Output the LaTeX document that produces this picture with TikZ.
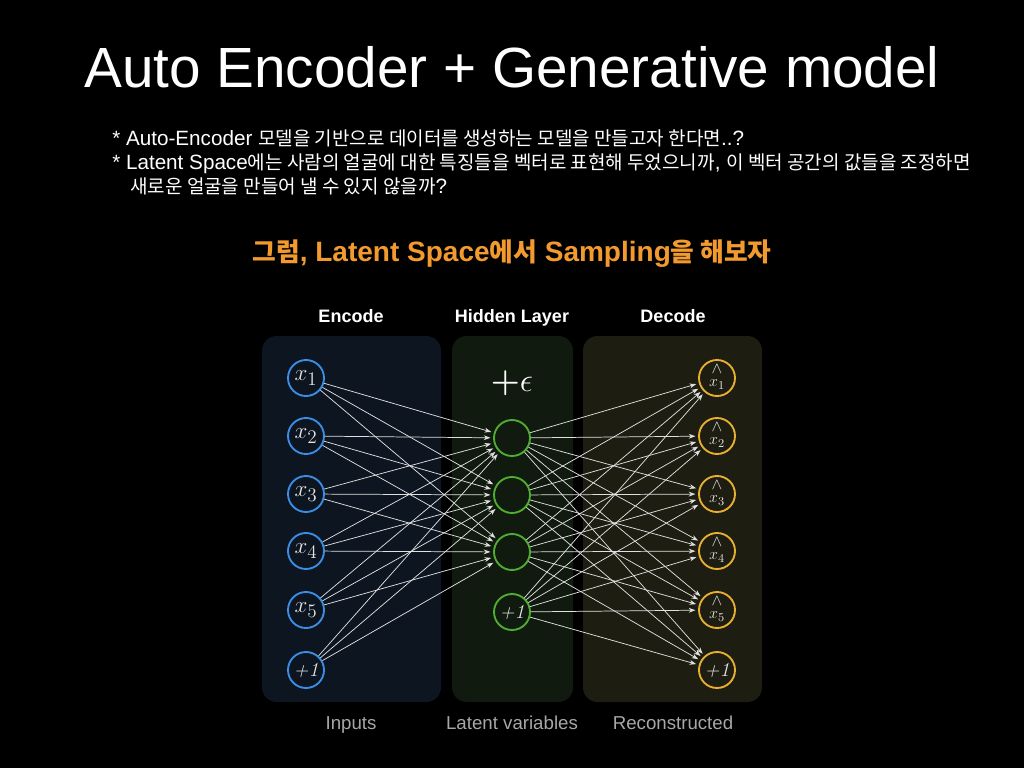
\documentclass[tikz,border=0pt]{standalone}
\usepackage{amsmath}
\usepackage{fontspec}
\setmainfont{Liberation Sans}
\newfontfamily\kr{Noto Sans CJK KR}[Scale=0.92]
\newfontfamily\lmrm{Latin Modern Roman}
\usetikzlibrary{arrows.meta}

\definecolor{encbg}{HTML}{0C1520}
\definecolor{hidbg}{HTML}{111A0F}
\definecolor{decbg}{HTML}{1E1D11}
\definecolor{inblue}{HTML}{3A8EE6}
\definecolor{hidgreen}{HTML}{4FAE2F}
\definecolor{outgold}{HTML}{E8B030}
\definecolor{accent}{HTML}{F29A2E}
\definecolor{wire}{HTML}{E0E0E0}
\definecolor{caption}{HTML}{A8A8A8}
\definecolor{nodetext}{HTML}{E6E6E6}

% bias unit label, set in an italic serif
\newcommand{\biaslabel}{{\fontsize{15pt}{15pt}\selectfont\lmrm\itshape +1}}
% reconstructed unit label: a caret over x_k, kept inside the circle
\newcommand{\recon}[1]{\smash{\raisebox{-2pt}{\fontsize{13pt}{13pt}\selectfont
  \begin{tabular}{@{}c@{}}$\wedge$\\[-3pt]$x_{#1}$\end{tabular}}}}

\begin{document}
\begin{tikzpicture}[x=0.75pt,y=-0.75pt,
  panel/.style={rounded corners=11pt},
  unit/.style={circle,minimum size=27pt,inner sep=0pt,line width=1.4pt,
    text=nodetext,font=\fontsize{19pt}{22pt}\selectfont},
  inunit/.style={unit,draw=inblue},
  hidunit/.style={unit,draw=hidgreen},
  outunit/.style={unit,draw=outgold},
  edge/.style={draw=wire,line width=0.55pt,-{Stealth[length=5pt,width=3.6pt]},shorten >=2pt},
  heading/.style={text=white,anchor=base,font=\fontsize{13.5pt}{16pt}\selectfont\bfseries},
  foot/.style={text=caption,anchor=base,font=\fontsize{14pt}{17pt}\selectfont},
  body/.style={text=white,anchor=base west,inner sep=0pt,font=\fontsize{15.5pt}{18pt}\selectfont}]

% background and page size
\fill[black] (0,0) rectangle (1024,768);
\useasboundingbox (0,0) rectangle (1024,768);

% title and notes
\node[text=white,font=\fontsize{42.5pt}{50pt}\selectfont] (title) at (512,67) {Auto Encoder + Generative model};
\node[body] (l1) at (112,145) {* Auto-Encoder {\kr 모델을 기반으로 데이터를 생성하는 모델을 만들고자 한다면}..?};
\node[body] (l2) at (112,169) {* Latent Space{\kr 에는 사람의 얼굴에 대한 특징들을 벡터로 표현해 두었으니까}, {\kr 이 벡터 공간의 값들을 조정하면}};
\node[body] (l3) at (130,193) {{\kr 새로운 얼굴을 만들어 낼 수 있지 않을까}?};
\node[text=accent,anchor=base,inner sep=0pt,font=\fontsize{21pt}{24pt}\selectfont\bfseries] (sub) at (512,261)
  {{\kr 그럼}, Latent Space{\kr 에서} Sampling{\kr 을 해보자}};

% layer panels
\fill[encbg,panel] (262,336) rectangle (441,702);
\fill[hidbg,panel] (452,336) rectangle (573,702);
\fill[decbg,panel] (583,336) rectangle (762,702);

\node[heading] (hEnc) at (351,322) {Encode};
\node[heading] (hHid) at (512,322) {Hidden Layer};
\node[heading] (hDec) at (673,322) {Decode};
\node[foot] (fIn) at (351,729) {Inputs};
\node[foot] (fLat) at (512,729) {Latent variables};
\node[foot] (fRec) at (673,729) {Reconstructed};

% input units
\node[inunit] (i1) at (306,378) {$x_1$};
\node[inunit] (i2) at (306,436) {$x_2$};
\node[inunit] (i3) at (306,494) {$x_3$};
\node[inunit] (i4) at (306,551) {$x_4$};
\node[inunit] (i5) at (306,610) {$x_5$};
\node[inunit] (i6) at (306,670) {\biaslabel};

% hidden units
\node[text=white,font=\fontsize{34pt}{38pt}\selectfont] (eps) at (512,383) {{\boldmath$+$}$\epsilon$};
\node[hidunit] (h1) at (512,438) {};
\node[hidunit] (h2) at (512,495) {};
\node[hidunit] (h3) at (512,552) {};
\node[hidunit] (h4) at (512,612) {\biaslabel};

% reconstructed units
\node[outunit] (o1) at (717,378) {\recon{1}};
\node[outunit] (o2) at (717,436) {\recon{2}};
\node[outunit] (o3) at (717,494) {\recon{3}};
\node[outunit] (o4) at (717,551) {\recon{4}};
\node[outunit] (o5) at (717,610) {\recon{5}};
\node[outunit] (o6) at (717,670) {\biaslabel};

% encoder weights
\foreach \i in {1,...,6}
  \foreach \j in {1,2,3}
    \draw[edge] (i\i) -- (h\j);

% decoder weights
\foreach \j in {1,...,4}
  \foreach \k in {1,...,6}
    \draw[edge] (h\j) -- (o\k);
\end{tikzpicture}
\end{document}
